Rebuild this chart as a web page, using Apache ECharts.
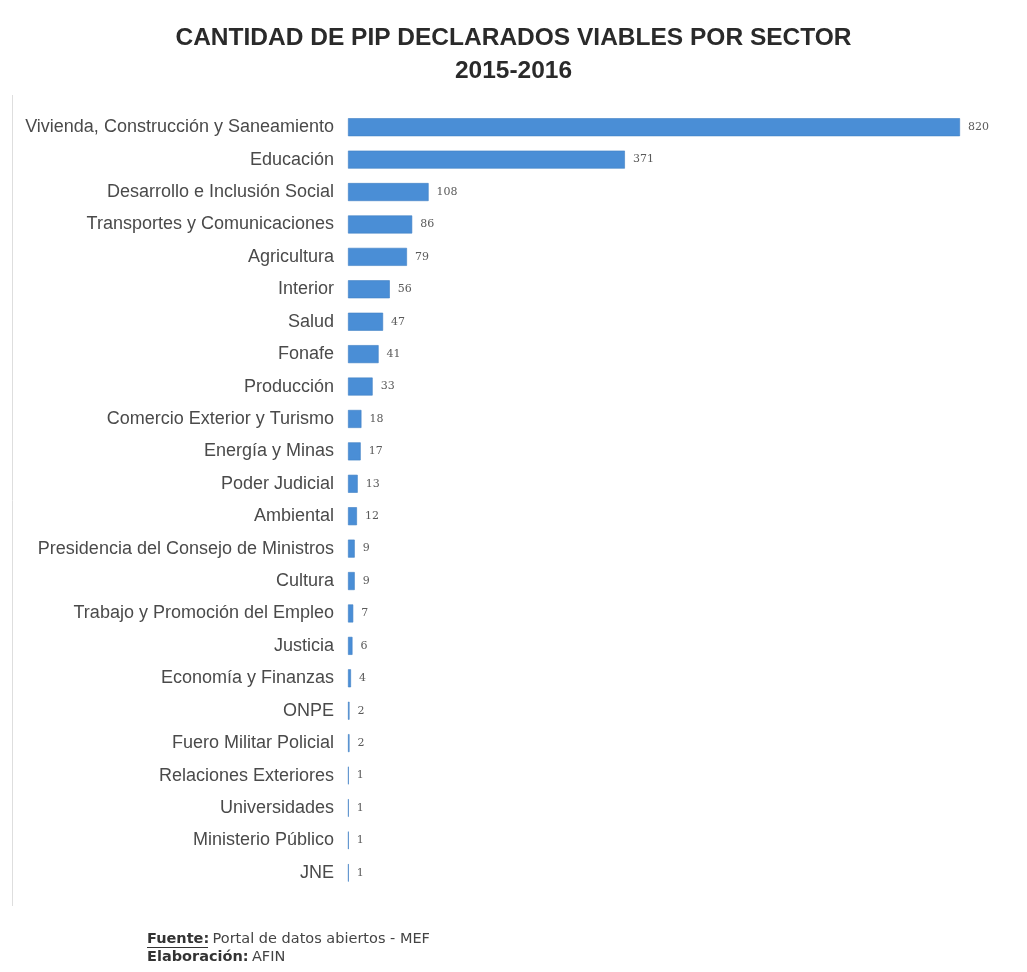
<!DOCTYPE html>
<html>
<head>
<meta charset="utf-8">
<style>
  html, body { margin: 0; padding: 0; background: #ffffff; }
  #chart { width: 1027px; height: 972px; }
</style>
<script src="https://cdn.jsdelivr.net/npm/echarts@6/dist/echarts.min.js"></script>
</head>
<body>
<div id="chart"></div>
<script>
// Sectors, top to bottom
const sectors = [
  'Vivienda, Construcción y Saneamiento',
  'Educación',
  'Desarrollo e Inclusión Social',
  'Transportes y Comunicaciones',
  'Agricultura',
  'Interior',
  'Salud',
  'Fonafe',
  'Producción',
  'Comercio Exterior y Turismo',
  'Energía y Minas',
  'Poder Judicial',
  'Ambiental',
  'Presidencia del Consejo de Ministros',
  'Cultura',
  'Trabajo y Promoción del Empleo',
  'Justicia',
  'Economía y Finanzas',
  'ONPE',
  'Fuero Militar Policial',
  'Relaciones Exteriores',
  'Universidades',
  'Ministerio Público',
  'JNE'
];

// Number of viable investment projects per sector
const viableProjects = [820, 371, 108, 86, 79, 56, 47, 41, 33, 18, 17, 13, 12, 9, 9, 7, 6, 4, 2, 2, 1, 1, 1, 1];

const titleLines = ['CANTIDAD DE PIP DECLARADOS VIABLES POR SECTOR', '2015-2016'];

const titleStyle = {
  fontFamily: 'Liberation Sans',
  fontSize: 24.5,
  fontWeight: 'bold',
  color: '#2a2a2a'
};

const chart = echarts.init(document.getElementById('chart'), null, { renderer: 'canvas' });

chart.setOption({
  backgroundColor: '#ffffff',
  animation: false,
  title: [
    { text: titleLines[0], left: 'center', top: 21, textStyle: titleStyle },
    { text: titleLines[1], left: 'center', top: 54, textStyle: titleStyle }
  ],
  grid: { left: 348, right: 67, top: 111, height: 778, containLabel: false },
  xAxis: {
    type: 'value',
    min: 0,
    max: 820,
    show: false
  },
  yAxis: {
    type: 'category',
    data: sectors,
    inverse: true,
    axisLine: { show: false },
    axisTick: { show: false },
    splitLine: { show: false },
    axisLabel: {
      margin: 14,
      fontFamily: 'Liberation Sans',
      fontSize: 18,
      color: '#4a4a4a'
    }
  },
  series: [{
    type: 'bar',
    data: viableProjects,
    barWidth: 18,
    itemStyle: { color: '#4a8ed6', borderColor: '#3f7fc4', borderWidth: 0.6 },
    label: {
      show: true,
      position: 'right',
      distance: 8,
      fontFamily: 'DejaVu Serif',
      fontSize: 11,
      color: '#5a5a5a'
    }
  }],
  graphic: [
    {
      type: 'line',
      shape: { x1: 12.5, y1: 95, x2: 12.5, y2: 906 },
      style: { stroke: '#dedede', lineWidth: 1 }
    },
    {
      type: 'text',
      left: 147,
      top: 932,
      style: {
        text: '{b|Fuente:} {n|Portal de datos abiertos - MEF}\n{b|Elaboración:} {n|AFIN}',
        rich: {
          b: { fontFamily: 'DejaVu Sans', fontSize: 14.5, fontWeight: 'bold', fill: '#333', lineHeight: 18 },
          n: { fontFamily: 'DejaVu Sans', fontSize: 14.5, fill: '#444', lineHeight: 18 }
        }
      }
    },
    {
      type: 'line',
      id: 'fuenteUnderline',
      shape: { x1: 147, y1: 947.5, x2: 208, y2: 947.5 },
      style: { stroke: '#333', lineWidth: 1 }
    }
  ]
});
</script>
</body>
</html>
